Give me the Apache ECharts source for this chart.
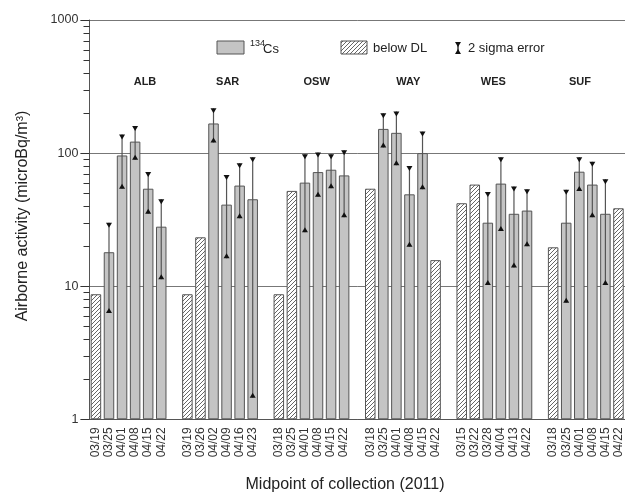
<!DOCTYPE html>
<html>
<head>
<meta charset="utf-8">
<script src="https://cdn.jsdelivr.net/npm/echarts@6/dist/echarts.min.js"></script>
<style>html,body{margin:0;padding:0;background:#fff}#c{width:625px;height:495px}</style>
</head>
<body>
<div id="c"></div>
<script>
// ---- data ----
const stations = ['ALB', 'SAR', 'OSW', 'WAY', 'WES', 'SUF'];
const dates = [
  ['03/19', '03/25', '04/01', '04/08', '04/15', '04/22'],
  ['03/19', '03/26', '04/02', '04/09', '04/16', '04/23'],
  ['03/18', '03/25', '04/01', '04/08', '04/15', '04/22'],
  ['03/18', '03/25', '04/01', '04/08', '04/15', '04/22'],
  ['03/15', '03/22', '03/28', '04/04', '04/13', '04/22'],
  ['03/18', '03/25', '04/01', '04/08', '04/15', '04/22']
];
// 134Cs activity (microBq/m3), null = below detection limit
const cs134 = [
  [null, 18, 96, 122, 54, 28],
  [null, null, 167, 41, 57, 45],
  [null, null, 60, 72, 75, 68],
  [null, 152, 142, 49, 100, null],
  [null, null, 30, 59, 35, 37],
  [null, 30, 72.5, 58, 35, null]
];
// detection-limit values (hatched bars)
const belowDL = [
  [8.7, null, null, null, null, null],
  [8.7, 23.3, null, null, null, null],
  [8.7, 52, null, null, null, null],
  [54, null, null, null, null, 15.7],
  [42, 58, null, null, null, null],
  [19.6, null, null, null, null, 38.5]
];
// 2 sigma error range
const errLow = [
  [null, 6.3, 54, 89, 35, 11.3],
  [null, null, 120, 16.2, 32.4, 1.45],
  [null, null, 25.4, 47, 54.4, 33],
  [null, 110, 81, 19.8, 53.5, null],
  [null, null, 10.2, 26, 13.8, 20],
  [null, 7.5, 52, 33, 10.2, null]
];
const errHigh = [
  [null, 30, 138, 160, 72, 45],
  [null, null, 217, 68.5, 84, 93],
  [null, null, 98, 101, 98, 105],
  [null, 199, 205, 80, 145, null],
  [null, null, 51, 93, 56, 53.5],
  [null, 53, 93, 86, 63.6, null]
];
const yTicks = [1, 10, 100, 1000];
const minorTickValues = [2,3,4,5,6,7,8,9,20,30,40,50,60,70,80,90,200,300,400,500,600,700,800,900];

// ---- build category axis (blank slot between stations) ----
const categories = [], csData = [], dlData = [], errData = [];
stations.forEach((s, g) => {
  if (g > 0) { categories.push(''); csData.push(null); dlData.push(null); }
  dates[g].forEach((d, i) => {
    const idx = categories.length;
    categories.push(d);
    csData.push(cs134[g][i]);
    dlData.push(belowDL[g][i]);
    if (errLow[g][i] != null) errData.push([idx, errLow[g][i], errHigh[g][i]]);
  });
});

// hatch pattern
function makeHatch() {
  const c = document.createElement('canvas');
  c.width = 4; c.height = 4;
  const x = c.getContext('2d');
  x.fillStyle = '#fff'; x.fillRect(0, 0, 4, 4);
  x.strokeStyle = '#666'; x.lineWidth = 1;
  x.beginPath();
  x.moveTo(-1, 5); x.lineTo(5, -1);
  x.moveTo(-1, 1); x.lineTo(1, -1);
  x.moveTo(3, 5); x.lineTo(5, 3);
  x.stroke();
  return c;
}
const hatch = makeHatch();
const FONT = "'Liberation Sans', Arial, sans-serif";
const GRAY = '#c4c4c4', EDGE = '#555';
const GRID = {left: 89.4, right: -7.6, top: 20, bottom: 75.7, containLabel: false};

const baseGraphic = [
  // axis titles
  {type: 'text', x: 345, y: 485, style: {text: 'Midpoint of collection (2011)', font: '16px ' + FONT,
    fill: '#222', align: 'center', verticalAlign: 'middle'}},
  {type: 'text', x: 23, y: 216, rotation: Math.PI / 2, style: {text: 'Airborne activity (microBq/m³)',
    font: '16px ' + FONT, fill: '#222', align: 'center', verticalAlign: 'middle'}},
  // legend
  {type: 'rect', shape: {x: 217, y: 41, width: 27, height: 13}, style: {fill: GRAY, stroke: EDGE, lineWidth: 1}},
  {type: 'text', x: 250, y: 43.5, style: {text: '134', font: '9px ' + FONT, fill: '#222', align: 'left', verticalAlign: 'middle'}},
  {type: 'text', x: 263, y: 49.5, style: {text: 'Cs', font: '13px ' + FONT, fill: '#222', align: 'left', verticalAlign: 'middle'}},
  {type: 'rect', shape: {x: 341, y: 41, width: 26, height: 13}, style: {fill: {image: hatch, repeat: 'repeat'}, stroke: EDGE, lineWidth: 1}},
  {type: 'text', x: 373, y: 48, style: {text: 'below DL', font: '13px ' + FONT, fill: '#222', align: 'left', verticalAlign: 'middle'}},
  {type: 'line', shape: {x1: 458, y1: 42, x2: 458, y2: 54}, style: {stroke: '#333', lineWidth: 1.5}},
  {type: 'polygon', shape: {points: [[455, 42], [461, 42], [458, 47]]}, style: {fill: '#111'}},
  {type: 'polygon', shape: {points: [[455, 54], [461, 54], [458, 49]]}, style: {fill: '#111'}},
  {type: 'text', x: 468, y: 48, style: {text: '2 sigma error', font: '13px ' + FONT, fill: '#222', align: 'left', verticalAlign: 'middle'}},
  // station labels
  ...stations.map((s, i) => ({type: 'text', x: [145, 227.7, 316.7, 408.3, 493.3, 580][i], y: 82,
    style: {text: s, font: 'bold 11px ' + FONT, fill: '#222', align: 'center', verticalAlign: 'middle'}}))
];

const chart = echarts.init(document.getElementById('c'), null, {renderer: 'canvas'});
chart.setOption({
  animation: false,
  grid: GRID,
  xAxis: {
    type: 'category',
    data: categories,
    axisLine: {lineStyle: {color: EDGE, width: 1}},
    axisTick: {
      alignWithLabel: true, length: 5,
      interval: (i, v) => v !== '',
      lineStyle: {color: EDGE}
    },
    axisLabel: {
      interval: 0, rotate: 90, margin: 8,
      fontFamily: FONT, fontSize: 12, color: '#333'
    },
    splitLine: {show: false}
  },
  yAxis: {
    type: 'log', logBase: 10, min: 1, max: 1000,
    axisLine: {show: true, lineStyle: {color: EDGE, width: 1}},
    axisTick: {show: true, length: 9, lineStyle: {color: '#333', width: 1}},
    axisLabel: {fontFamily: FONT, fontSize: 12.5, color: '#333', margin: 11,
      formatter: v => yTicks.includes(Math.round(v)) ? String(Math.round(v)) : ''},
    splitLine: {show: true, lineStyle: {color: '#777', width: 1}},
    minorTick: {show: false}
  },
  series: [
    {
      name: '134Cs', type: 'bar', data: csData, barWidth: 10.5, barGap: '-100%',
      itemStyle: {color: GRAY, borderColor: EDGE, borderWidth: 1}, z: 2
    },
    {
      name: 'below DL', type: 'bar', data: dlData, barWidth: 10.5, barGap: '-100%',
      itemStyle: {color: {image: hatch, repeat: 'repeat'}, borderColor: EDGE, borderWidth: 1}, z: 2
    },
    {
      name: '2 sigma error', type: 'custom', data: errData, z: 5,
      encode: {x: 0, y: [1, 2]},
      renderItem: (params, api) => {
        const lo = api.coord([api.value(0), api.value(1)]);
        const hi = api.coord([api.value(0), api.value(2)]);
        const x = lo[0];
        return {
          type: 'group',
          children: [
            {type: 'line', shape: {x1: x, y1: lo[1], x2: x, y2: hi[1]},
              style: {stroke: '#555', lineWidth: 1.2}},
            {type: 'polygon', shape: {points: [[x - 3, hi[1]], [x + 3, hi[1]], [x, hi[1] + 5]]},
              style: {fill: '#111'}},
            {type: 'polygon', shape: {points: [[x - 3, lo[1]], [x + 3, lo[1]], [x, lo[1] - 5]]},
              style: {fill: '#111'}}
          ]
        };
      }
    }
  ]
});

// minor ticks on the log y axis, positioned through the axis scale
const axisX = Math.round(GRID.left) + 0.5;
const minorLines = [];
minorTickValues.forEach(v => {
  const p = chart.convertToPixel({yAxisIndex: 0}, v);
  if (typeof p === 'number' && isFinite(p)) {
    const y = Math.round(p) + 0.5;
    minorLines.push({type: 'line', shape: {x1: axisX - 6, y1: y, x2: axisX, y2: y},
      style: {stroke: '#333', lineWidth: 1}, z: 100});
  }
});
chart.setOption({graphic: {elements: baseGraphic.concat(minorLines)}});
</script>
</body>
</html>
